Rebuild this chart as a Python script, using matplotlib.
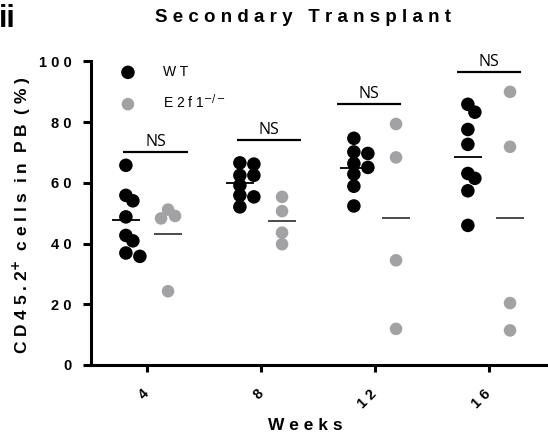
import numpy as np
import matplotlib.pyplot as plt

plt.rcParams['font.family'] = ['Liberation Sans', 'DejaVu Sans']

# CD45.2+ chimerism in peripheral blood, one value per recipient mouse
weeks = ['4', '8', '12', '16']
wt_values = [
    [65.8, 55.9, 54.1, 48.8, 42.7, 40.9, 36.9, 35.8],
    [66.6, 66.2, 62.5, 62.5, 59.2, 55.9, 55.4, 52.1],
    [74.7, 70.2, 69.7, 66.4, 65.1, 62.9, 58.9, 52.4],
    [85.9, 83.3, 77.6, 72.7, 63.1, 61.5, 57.4, 46.0],
]
ko_values = [
    [51.2, 49.1, 48.3, 24.3],
    [55.4, 50.7, 43.6, 39.8],
    [79.4, 68.4, 34.5, 11.9],
    [90.0, 71.9, 20.4, 11.4],
]
ns_labels = ['NS', 'NS', 'NS', 'NS']
ns_heights = [70.1, 74.1, 85.9, 96.6]

# bracket extents around each week (category units)
ns_extent = [(-0.21, 0.36), (-0.21, 0.35), (-0.33, 0.23), (-0.28, 0.28)]

WT_COLOR = 'black'
KO_COLOR = '#a2a2a5'
GROUP_SHIFT = 0.185
MEAN_HALF = 0.125


def spaced(s):
    return ' '.join(s)


def swarm(ax, x0, values, min_dist=8.5, step=7.0):
    # push overlapping dots sideways, working in display pixels
    pts = ax.transData.transform(np.column_stack([np.full(len(values), x0), values]))
    placed = []
    for px, py in pts:
        k = 0
        found = None
        while found is None:
            offs = [0.0] if k == 0 else [k * step, -k * step]
            for off in offs:
                cx = px + off
                if all(np.hypot(cx - qx, py - qy) >= min_dist for qx, qy in placed):
                    found = cx
                    break
            k += 1
        placed.append((found, py))
    placed = np.array(placed)
    return ax.transData.inverted().transform(placed)[:, 0]


fig = plt.figure(figsize=(5.48, 4.43), dpi=100)
ax = fig.add_axes([91 / 548, 1 - 365 / 443, 457 / 548, 303.5 / 443])
ax.set_xlim(0.509, 4.518)
ax.set_ylim(0, 100)

xpos = np.arange(1, len(weeks) + 1)
for i, x in enumerate(xpos):
    xw = swarm(ax, x - GROUP_SHIFT, wt_values[i], min_dist=8.5)
    xk = swarm(ax, x + GROUP_SHIFT, ko_values[i], min_dist=8.5)
    ax.scatter(xw, wt_values[i], s=95, color=WT_COLOR, edgecolors='none',
               zorder=3, clip_on=False, label='W T' if i == 0 else None)
    ax.scatter(xk, ko_values[i], s=82, color=KO_COLOR, edgecolors='none',
               zorder=3, clip_on=False, label='E 2 f 1$^{-/-}$' if i == 0 else None)
    ax.hlines(np.mean(wt_values[i]), x - GROUP_SHIFT - MEAN_HALF, x - GROUP_SHIFT + MEAN_HALF,
              color='black', lw=1.3, zorder=4)
    ax.hlines(np.mean(ko_values[i]), x + GROUP_SHIFT - MEAN_HALF, x + GROUP_SHIFT + MEAN_HALF,
              color='#3c3c3c', lw=1.3, zorder=4)

    # significance bar
    x1, x2 = x + ns_extent[i][0], x + ns_extent[i][1]
    ax.plot([x1, x2], [ns_heights[i], ns_heights[i]], color='black', lw=1.6,
            clip_on=False, solid_capstyle='butt')
    ax.annotate(ns_labels[i], ((x1 + x2) / 2, ns_heights[i]), xytext=(0, 1.5),
                textcoords='offset points', ha='center', va='bottom',
                fontsize=11.5, family='Open Sans', annotation_clip=False)

for side in ['top', 'right']:
    ax.spines[side].set_visible(False)
for side in ['left', 'bottom']:
    ax.spines[side].set_linewidth(2.2)

ax.set_yticks(np.arange(0, 101, 20))
ax.set_yticklabels([spaced(str(v)) for v in range(0, 101, 20)], fontsize=10.5, fontweight='bold')
ax.set_xticks(xpos)
ax.set_xticklabels([spaced(w) for w in weeks], fontsize=10.5, fontweight='bold',
                   rotation=45, ha='right', va='center', rotation_mode='anchor')
ax.tick_params(axis='y', length=6, width=2.2, pad=8)
ax.tick_params(axis='x', length=5, width=2.2, pad=14)

ax.legend(loc='upper left', bbox_to_anchor=(121 / 548, 1 - 65 / 443),
          bbox_transform=fig.transFigure, frameon=False, fontsize=10,
          handlelength=1.0, handletextpad=2.0, labelspacing=0.95,
          borderpad=0, borderaxespad=0, scatterpoints=1)

fig.text(303 / 548, 1 - 17 / 443, 'S e c o n d a r y   T r a n s p l a n t',
         ha='center', va='center', fontsize=13.5, fontweight='bold')
fig.text(305 / 548, 1 - 425 / 443, spaced('Weeks'),
         ha='center', va='center', fontsize=12.5, fontweight='bold')
fig.text(22 / 548, 1 - 215 / 443, 'C D 4 5 . 2$^{\\mathbf{+}}$  c e l l s  i n  P B  ( % )',
         ha='center', va='center', rotation=90, fontsize=12.5, fontweight='bold')
fig.text(-1 / 548, 1 - 27 / 443, 'ii', ha='left', va='baseline',
         fontsize=22, fontweight='bold')

fig.savefig('out.png', dpi=100)
